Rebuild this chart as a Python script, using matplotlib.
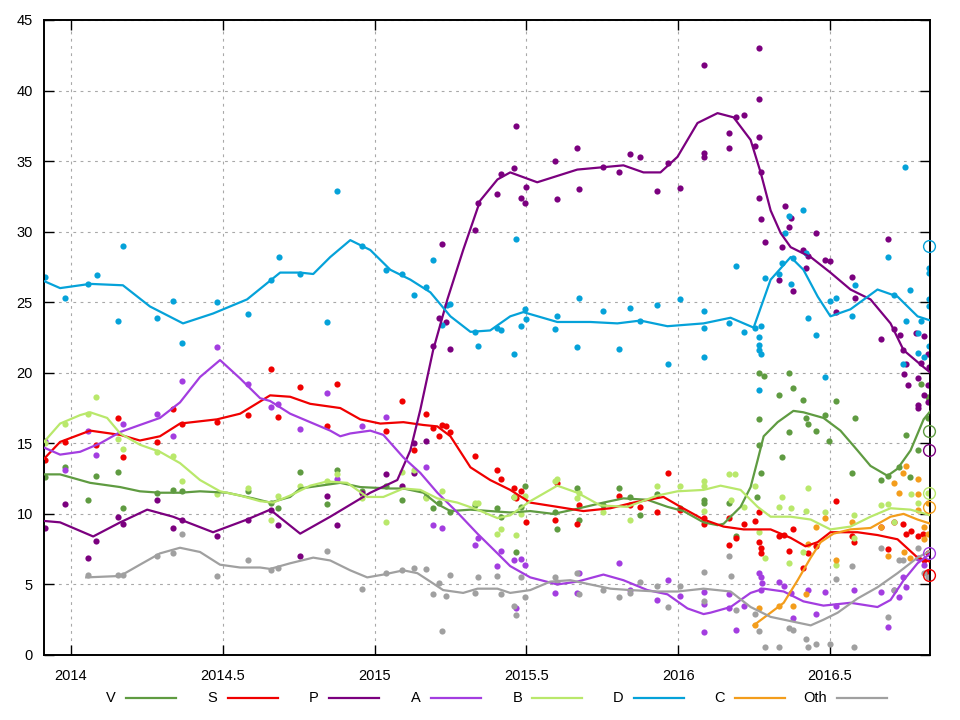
import matplotlib
matplotlib.use("Agg")
import matplotlib.pyplot as plt
from matplotlib.lines import Line2D

plt.rcParams["font.family"] = ["Liberation Sans", "DejaVu Sans"]

parties = ["V", "S", "P", "A", "B", "D", "C", "Oth"]
colors = {"V": "#5f9b41", "S": "#f00000", "P": "#7b007f", "A": "#a33de0",
          "B": "#b9e86b", "D": "#05a2d9", "C": "#f39d1c", "Oth": "#a0a0a0"}

election_date = 2016.828
election = {"V": 15.9, "S": 5.7, "P": 14.5, "A": 7.2, "B": 11.5, "D": 29.0, "C": 10.5}

# ---- poll points (decimal year, %) ----
V_t = [2013.914, 2013.980, 2014.056, 2014.082, 2014.155, 2014.171, 2014.284, 2014.336, 2014.366, 2014.584,
       2014.659, 2014.683, 2014.755, 2014.844, 2014.877, 2014.959, 2015.039, 2015.091, 2015.170, 2015.193,
       2015.213, 2015.250, 2015.332, 2015.405, 2015.418, 2015.461, 2015.467, 2015.484, 2015.497, 2015.593,
       2015.602, 2015.668, 2015.675, 2015.754, 2015.807, 2015.843, 2015.876, 2015.929, 2016.005, 2016.087,
       2016.087, 2016.169, 2016.192, 2016.259, 2016.265, 2016.282, 2016.265, 2016.265, 2016.272, 2016.331,
       2016.344, 2016.367, 2016.380, 2016.367, 2016.410, 2016.420, 2016.427, 2016.456, 2016.483, 2016.496,
       2016.519, 2016.572, 2016.582, 2016.667, 2016.690, 2016.727, 2016.750, 2016.763, 2016.789, 2016.799,
       2016.822, 2016.822]
V_v = [12.6, 13.3, 11.0, 12.7, 13.0, 10.4, 11.5, 11.7, 11.6, 11.6,
       10.8, 10.4, 13.0, 10.7, 13.1, 11.6, 12.0, 11.0, 11.2, 10.4,
       10.8, 10.1, 10.6, 10.4, 9.8, 11.2, 7.3, 10.5, 12.0, 10.1,
       8.9, 11.8, 9.6, 10.6, 11.8, 11.2, 9.9, 11.4, 10.4, 11.0,
       10.8, 10.8, 8.4, 11.2, 20.0, 19.8, 16.7, 14.9, 12.9, 18.4,
       14.0, 20.0, 18.9, 15.8, 18.1, 16.8, 16.4, 15.9, 17.0, 15.2,
       18.0, 12.9, 16.8, 12.4, 12.7, 13.3, 15.6, 12.6, 14.5, 19.2,
       18.3, 16.8]

S_t = [2013.914, 2013.980, 2014.082, 2014.155, 2014.171, 2014.284, 2014.336, 2014.366, 2014.481, 2014.584,
       2014.659, 2014.683, 2014.755, 2014.844, 2014.877, 2015.039, 2015.091, 2015.131, 2015.170, 2015.193,
       2015.213, 2015.223, 2015.236, 2015.250, 2015.332, 2015.405, 2015.418, 2015.461, 2015.467, 2015.484,
       2015.500, 2015.593, 2015.602, 2015.668, 2015.675, 2015.807, 2015.843, 2015.876, 2015.929, 2015.968,
       2016.005, 2016.084, 2016.087, 2016.169, 2016.169, 2016.192, 2016.216, 2016.252, 2016.265, 2016.265,
       2016.272, 2016.272, 2016.331, 2016.348, 2016.367, 2016.380, 2016.410, 2016.427, 2016.456, 2016.519,
       2016.572, 2016.578, 2016.667, 2016.690, 2016.710, 2016.740, 2016.750, 2016.766, 2016.789, 2016.806,
       2016.822, 2016.822, 2016.809]
S_v = [13.8, 15.1, 14.9, 16.8, 14.0, 15.1, 17.4, 16.4, 16.5, 17.0,
       20.3, 16.9, 19.0, 16.2, 19.2, 15.9, 18.0, 14.5, 17.1, 16.1,
       15.5, 16.3, 16.2, 15.8, 14.1, 13.1, 12.5, 11.8, 11.1, 11.6,
       9.4, 9.6, 12.2, 9.3, 10.6, 11.3, 10.6, 10.5, 10.1, 12.9,
       10.3, 9.7, 9.3, 9.7, 7.8, 8.3, 9.3, 9.5, 10.1, 8.0,
       7.6, 7.2, 8.4, 8.5, 7.4, 8.9, 6.2, 7.2, 7.7, 10.9,
       8.4, 8.0, 9.1, 7.5, 9.4, 9.3, 8.6, 8.8, 8.4, 8.6,
       7.2, 5.9, 6.7]

P_t = [2013.914, 2013.980, 2014.056, 2014.082, 2014.155, 2014.171, 2014.284, 2014.336, 2014.366, 2014.481,
       2014.584, 2014.659, 2014.683, 2014.755, 2014.844, 2014.877, 2014.959, 2015.039, 2015.091, 2015.131,
       2015.131, 2015.170, 2015.193, 2015.213, 2015.223, 2015.236, 2015.250, 2015.332, 2015.342, 2015.405,
       2015.418, 2015.461, 2015.467, 2015.484, 2015.497, 2015.500, 2015.593, 2015.602, 2015.668, 2015.675,
       2015.754, 2015.807, 2015.843, 2015.876, 2015.929, 2015.968, 2016.005, 2016.084, 2016.087, 2016.087,
       2016.169, 2016.169, 2016.192, 2016.216, 2016.252, 2016.265, 2016.265, 2016.265, 2016.272, 2016.268,
       2016.272, 2016.288, 2016.331, 2016.341, 2016.351, 2016.367, 2016.371, 2016.380, 2016.410, 2016.420,
       2016.427, 2016.456, 2016.483, 2016.499, 2016.519, 2016.572, 2016.582, 2016.667, 2016.690, 2016.710,
       2016.730, 2016.740, 2016.750, 2016.783, 2016.799, 2016.809, 2016.822, 2016.826, 2016.743, 2016.789,
       2016.756, 2016.822, 2016.809, 2016.789, 2016.789, 2016.822]
P_v = [9.0, 10.7, 6.9, 8.1, 9.8, 9.3, 11.0, 9.0, 9.6, 8.4,
       9.6, 10.3, 9.2, 7.0, 11.3, 9.2, 11.5, 12.8, 12.0, 12.9,
       15.0, 15.2, 21.9, 23.9, 29.1, 23.6, 21.7, 30.1, 32.0, 32.7,
       34.1, 34.5, 37.5, 32.4, 32.0, 33.2, 35.0, 32.3, 35.9, 33.0,
       34.6, 34.2, 35.5, 35.3, 32.9, 34.9, 33.1, 41.8, 35.6, 35.3,
       37.0, 35.9, 38.1, 38.3, 36.1, 43.0, 39.4, 36.7, 34.2, 32.4,
       30.9, 29.3, 26.6, 28.9, 31.8, 30.3, 31.0, 25.8, 28.7, 27.4,
       28.3, 29.9, 28.0, 27.9, 24.3, 26.8, 25.3, 22.4, 29.5, 23.1,
       22.7, 21.6, 20.6, 22.8, 20.7, 22.6, 21.3, 20.4, 19.9, 19.6,
       19.1, 19.1, 18.4, 17.7, 17.5, 17.9]

A_t = [2013.914, 2013.980, 2014.056, 2014.082, 2014.171, 2014.284, 2014.336, 2014.366, 2014.481, 2014.584,
       2014.659, 2014.683, 2014.755, 2014.844, 2014.877, 2014.959, 2015.039, 2015.170, 2015.193, 2015.223,
       2015.332, 2015.342, 2015.405, 2015.418, 2015.461, 2015.467, 2015.484, 2015.497, 2015.593, 2015.668,
       2015.675, 2015.807, 2015.843, 2015.929, 2015.968, 2016.005, 2016.084, 2016.087, 2016.087, 2016.169,
       2016.169, 2016.192, 2016.216, 2016.265, 2016.272, 2016.278, 2016.272, 2016.331, 2016.348, 2016.371,
       2016.377, 2016.427, 2016.456, 2016.483, 2016.519, 2016.578, 2016.667, 2016.690, 2016.710, 2016.727,
       2016.750, 2016.740, 2016.789, 2016.809]
A_v = [15.2, 13.1, 15.9, 14.2, 16.4, 17.1, 15.5, 19.4, 21.8, 19.2,
       17.6, 17.8, 16.0, 18.6, 12.5, 16.2, 16.9, 13.3, 9.2, 9.0,
       7.8, 8.3, 6.3, 7.4, 6.7, 3.3, 6.8, 6.4, 4.4, 4.4,
       5.8, 6.5, 4.6, 3.9, 5.3, 4.2, 1.6, 4.5, 3.6, 4.3,
       3.3, 1.8, 3.5, 5.8, 5.5, 5.1, 4.6, 5.2, 4.9, 4.4,
       2.6, 4.6, 2.9, 4.5, 3.5, 4.6, 4.5, 2.0, 4.6, 4.1,
       4.8, 5.5, 6.9, 6.4]

B_t = [2013.914, 2013.980, 2014.056, 2014.082, 2014.155, 2014.171, 2014.284, 2014.336, 2014.366, 2014.481,
       2014.584, 2014.659, 2014.683, 2014.755, 2014.844, 2014.877, 2014.959, 2015.039, 2015.091, 2015.131,
       2015.170, 2015.223, 2015.332, 2015.342, 2015.405, 2015.418, 2015.461, 2015.467, 2015.484, 2015.497,
       2015.593, 2015.602, 2015.668, 2015.675, 2015.754, 2015.843, 2015.929, 2016.005, 2016.084, 2016.087,
       2016.087, 2016.169, 2016.189, 2016.173, 2016.216, 2016.252, 2016.265, 2016.288, 2016.344, 2016.331,
       2016.371, 2016.367, 2016.410, 2016.427, 2016.420, 2016.483, 2016.519, 2016.578, 2016.578, 2016.667,
       2016.690, 2016.710, 2016.766, 2016.789, 2016.822]
B_v = [15.0, 16.4, 17.1, 18.3, 15.3, 14.6, 14.4, 14.1, 12.3, 11.4,
       11.8, 9.6, 11.3, 12.0, 12.3, 12.8, 11.1, 9.4, 13.0, 13.1,
       11.1, 11.6, 10.8, 10.8, 8.6, 8.9, 11.2, 8.5, 10.0, 11.3,
       12.3, 12.5, 11.1, 11.5, 10.1, 9.6, 12.0, 12.0, 12.3, 12.0,
       10.2, 12.8, 12.8, 11.0, 10.5, 12.0, 8.7, 6.9, 11.2, 10.5,
       10.4, 6.5, 7.3, 11.8, 10.2, 10.1, 6.4, 9.9, 8.3, 10.6,
       10.7, 9.4, 11.4, 10.8, 11.5]

D_t = [2013.914, 2013.980, 2014.056, 2014.086, 2014.155, 2014.171, 2014.284, 2014.336, 2014.366, 2014.481,
       2014.584, 2014.659, 2014.686, 2014.755, 2014.844, 2014.877, 2014.959, 2015.039, 2015.091, 2015.131,
       2015.170, 2015.193, 2015.223, 2015.240, 2015.250, 2015.332, 2015.342, 2015.405, 2015.418, 2015.461,
       2015.467, 2015.484, 2015.497, 2015.500, 2015.593, 2015.602, 2015.668, 2015.675, 2015.754, 2015.807,
       2015.843, 2015.876, 2015.929, 2015.968, 2016.005, 2016.084, 2016.087, 2016.087, 2016.169, 2016.192,
       2016.216, 2016.252, 2016.265, 2016.268, 2016.265, 2016.272, 2016.272, 2016.265, 2016.288, 2016.331,
       2016.341, 2016.351, 2016.367, 2016.371, 2016.380, 2016.410, 2016.420, 2016.427, 2016.456, 2016.483,
       2016.499, 2016.519, 2016.572, 2016.582, 2016.690, 2016.710, 2016.740, 2016.746, 2016.750, 2016.763,
       2016.789, 2016.789, 2016.799, 2016.809, 2016.826, 2016.826, 2016.826, 2016.826, 2016.826]
D_v = [26.8, 25.3, 26.3, 26.9, 23.7, 29.0, 23.9, 25.1, 22.1, 25.0,
       24.2, 26.6, 28.2, 27.0, 23.6, 32.9, 29.0, 27.3, 27.0, 25.5,
       26.1, 28.0, 23.4, 24.8, 24.9, 22.9, 21.9, 23.2, 23.0, 21.3,
       29.5, 23.3, 24.5, 23.8, 23.1, 24.0, 21.8, 25.3, 24.4, 21.7,
       24.6, 23.7, 24.8, 20.6, 25.2, 23.2, 24.4, 21.1, 23.5, 27.6,
       22.9, 23.2, 22.5, 22.0, 21.6, 21.3, 23.3, 18.8, 26.7, 27.0,
       27.8, 29.9, 31.1, 26.3, 28.1, 31.5, 28.5, 23.9, 22.7, 19.7,
       25.1, 25.3, 24.0, 26.2, 28.2, 25.5, 20.6, 34.6, 23.7, 25.9,
       21.4, 22.8, 23.7, 21.1, 27.4, 27.1, 25.2, 24.7, 21.9]

C_t = [2016.252, 2016.265, 2016.331, 2016.380, 2016.420, 2016.427, 2016.456, 2016.483, 2016.519, 2016.572,
       2016.667, 2016.690, 2016.710, 2016.727, 2016.750, 2016.740, 2016.789, 2016.789, 2016.809, 2016.822,
       2016.822, 2016.809, 2016.743, 2016.763, 2016.789]
C_v = [2.1, 3.3, 3.5, 3.5, 4.3, 7.9, 9.1, 9.7, 6.7, 9.4,
       9.1, 7.0, 12.2, 11.5, 13.4, 12.9, 12.5, 11.4, 9.1, 10.8,
       8.6, 8.2, 7.3, 6.9, 10.3]

Oth_t = [2014.056, 2014.155, 2014.171, 2014.284, 2014.336, 2014.366, 2014.481, 2014.584, 2014.659, 2014.683,
         2014.844, 2014.959, 2015.039, 2015.091, 2015.131, 2015.170, 2015.193, 2015.213, 2015.223, 2015.236,
         2015.250, 2015.332, 2015.342, 2015.405, 2015.418, 2015.461, 2015.467, 2015.484, 2015.497, 2015.593,
         2015.602, 2015.668, 2015.675, 2015.754, 2015.807, 2015.843, 2015.876, 2015.929, 2015.968, 2016.005,
         2016.084, 2016.087, 2016.169, 2016.173, 2016.192, 2016.252, 2016.268, 2016.288, 2016.331, 2016.367,
         2016.380, 2016.420, 2016.427, 2016.456, 2016.499, 2016.519, 2016.572, 2016.578, 2016.667, 2016.690,
         2016.710, 2016.727, 2016.740, 2016.789, 2016.809, 2016.822]
Oth_v = [5.7, 5.7, 5.7, 7.0, 7.2, 8.6, 5.6, 6.7, 6.0, 6.2,
         7.4, 4.7, 5.8, 6.0, 6.2, 6.1, 4.3, 5.1, 1.7, 4.2,
         5.7, 4.4, 5.5, 5.6, 4.3, 3.5, 2.8, 5.5, 4.1, 5.5,
         5.2, 5.8, 4.3, 4.6, 4.1, 4.4, 5.2, 4.9, 3.4, 4.9,
         3.8, 5.9, 7.0, 5.6, 3.2, 2.9, 1.7, 0.6, 0.6, 1.9,
         1.8, 1.1, 0.6, 0.8, 0.8, 5.4, 6.3, 0.6, 7.6, 2.7,
         4.6, 6.7, 6.7, 7.6, 5.8, 5.5]

# ---- smoothed trend lines (decimal year, %) ----
V_line_t = [2013.911, 2013.964, 2014.063, 2014.162, 2014.227, 2014.293, 2014.359, 2014.425, 2014.514, 2014.600,
            2014.656, 2014.722, 2014.755, 2014.821, 2014.887, 2014.953, 2015.052, 2015.095, 2015.161, 2015.207,
            2015.250, 2015.316, 2015.381, 2015.447, 2015.513, 2015.589, 2015.655, 2015.754, 2015.820, 2015.899,
            2015.965, 2016.018, 2016.084, 2016.130, 2016.150, 2016.206, 2016.239, 2016.262, 2016.282, 2016.328,
            2016.380, 2016.413, 2016.479, 2016.535, 2016.591, 2016.634, 2016.690, 2016.723, 2016.766, 2016.809,
            2016.832]
V_line_v = [12.8, 12.8, 12.2, 11.9, 11.6, 11.5, 11.5, 11.6, 11.5, 11.1,
            10.8, 11.2, 11.8, 12.0, 12.2, 11.9, 11.8, 11.8, 11.5, 10.7,
            10.2, 10.3, 10.2, 10.1, 10.2, 10.0, 10.3, 10.8, 11.1, 11.0,
            10.5, 10.2, 9.4, 9.2, 9.3, 10.5, 11.9, 13.8, 15.5, 16.5,
            17.3, 17.2, 16.8, 15.9, 14.5, 13.4, 12.7, 13.2, 14.5, 16.7,
            17.3]

S_line_t = [2013.911, 2013.964, 2014.063, 2014.162, 2014.227, 2014.293, 2014.359, 2014.481, 2014.557, 2014.656,
            2014.722, 2014.788, 2014.887, 2014.953, 2015.019, 2015.095, 2015.161, 2015.207, 2015.250, 2015.316,
            2015.381, 2015.447, 2015.513, 2015.602, 2015.688, 2015.777, 2015.853, 2015.952, 2016.008, 2016.084,
            2016.150, 2016.216, 2016.305, 2016.371, 2016.420, 2016.460, 2016.502, 2016.591, 2016.657, 2016.723,
            2016.789, 2016.832]
S_line_v = [13.9, 15.1, 15.9, 15.6, 15.2, 15.5, 16.4, 16.7, 17.1, 18.4,
            18.3, 17.8, 17.5, 16.7, 16.4, 16.5, 16.3, 16.2, 15.5, 13.3,
            12.4, 11.7, 10.8, 10.5, 10.2, 10.4, 10.8, 11.2, 10.5, 9.6,
            9.1, 8.9, 8.9, 8.3, 7.7, 8.0, 8.7, 8.7, 8.5, 8.2,
            6.9, 6.6]

P_line_t = [2013.911, 2013.964, 2014.073, 2014.162, 2014.251, 2014.336, 2014.468, 2014.580, 2014.656, 2014.755,
            2014.854, 2014.986, 2015.075, 2015.118, 2015.151, 2015.193, 2015.240, 2015.292, 2015.348, 2015.405,
            2015.447, 2015.536, 2015.668, 2015.820, 2015.886, 2015.942, 2015.998, 2016.064, 2016.130, 2016.183,
            2016.239, 2016.272, 2016.305, 2016.338, 2016.371, 2016.437, 2016.502, 2016.568, 2016.634, 2016.700,
            2016.743, 2016.809, 2016.832]
P_line_v = [9.5, 9.4, 8.4, 9.4, 10.3, 9.8, 8.7, 9.6, 10.3, 8.6,
            9.8, 11.5, 12.4, 14.5, 17.4, 21.6, 25.2, 28.7, 32.2, 33.7,
            34.2, 33.5, 34.4, 34.7, 34.2, 34.2, 35.3, 37.7, 38.4, 38.1,
            36.5, 34.2, 31.5, 29.9, 28.9, 28.2, 27.1, 25.9, 25.2, 23.5,
            21.6, 20.4, 20.0]

A_line_t = [2013.911, 2013.964, 2014.030, 2014.096, 2014.162, 2014.227, 2014.293, 2014.359, 2014.425, 2014.491,
            2014.557, 2014.623, 2014.656, 2014.722, 2014.788, 2014.854, 2014.887, 2014.920, 2014.986, 2015.029,
            2015.095, 2015.151, 2015.207, 2015.273, 2015.339, 2015.405, 2015.447, 2015.513, 2015.602, 2015.668,
            2015.754, 2015.820, 2015.899, 2015.965, 2016.031, 2016.084, 2016.107, 2016.173, 2016.239, 2016.282,
            2016.348, 2016.413, 2016.479, 2016.568, 2016.657, 2016.700, 2016.743, 2016.789, 2016.832]
A_line_v = [14.7, 14.2, 14.4, 15.0, 15.8, 16.3, 16.8, 17.9, 19.7, 20.9,
            19.6, 18.2, 18.0, 17.1, 16.5, 15.9, 15.5, 15.7, 15.9, 15.6,
            14.0, 12.9, 11.5, 10.1, 8.6, 7.2, 6.3, 5.5, 5.0, 5.2,
            5.7, 5.3, 4.6, 4.3, 3.3, 2.9, 3.0, 3.4, 4.4, 4.7,
            4.5, 3.8, 3.5, 3.7, 3.4, 3.9, 5.3, 6.5, 7.2]

B_line_t = [2013.911, 2013.964, 2014.030, 2014.063, 2014.119, 2014.162, 2014.227, 2014.293, 2014.359, 2014.425,
            2014.491, 2014.557, 2014.623, 2014.666, 2014.722, 2014.788, 2014.844, 2014.910, 2014.976, 2015.029,
            2015.095, 2015.151, 2015.207, 2015.273, 2015.339, 2015.405, 2015.447, 2015.513, 2015.602, 2015.668,
            2015.744, 2015.833, 2015.932, 2015.998, 2016.084, 2016.140, 2016.206, 2016.262, 2016.305, 2016.371,
            2016.437, 2016.502, 2016.568, 2016.634, 2016.700, 2016.766, 2016.832]
B_line_v = [15.1, 16.4, 17.0, 17.2, 16.8, 15.7, 14.9, 14.4, 13.6, 12.4,
            11.6, 11.3, 10.9, 10.8, 11.3, 12.0, 12.3, 12.2, 11.2, 11.2,
            11.8, 11.7, 11.1, 10.8, 10.3, 9.7, 9.9, 10.9, 12.0, 11.5,
            10.6, 10.5, 11.3, 11.6, 11.7, 12.0, 11.7, 10.5, 9.8, 9.8,
            9.6, 8.9, 9.1, 9.8, 10.4, 10.3, 9.9]

D_line_t = [2013.911, 2013.964, 2014.063, 2014.171, 2014.260, 2014.369, 2014.468, 2014.580, 2014.689, 2014.755,
            2014.798, 2014.854, 2014.920, 2014.986, 2015.052, 2015.118, 2015.184, 2015.250, 2015.316, 2015.381,
            2015.447, 2015.490, 2015.602, 2015.711, 2015.800, 2015.876, 2015.965, 2016.084, 2016.173, 2016.249,
            2016.305, 2016.371, 2016.413, 2016.460, 2016.502, 2016.568, 2016.657, 2016.723, 2016.789, 2016.832]
D_line_v = [26.5, 26.0, 26.3, 26.2, 24.7, 23.5, 24.2, 25.2, 27.1, 27.1,
            27.0, 28.2, 29.4, 28.7, 27.3, 26.6, 25.7, 24.0, 22.9, 23.0,
            24.0, 24.3, 23.6, 23.6, 23.5, 23.7, 23.3, 23.5, 23.9, 23.2,
            26.6, 28.2, 27.3, 25.4, 24.0, 24.5, 25.9, 25.4, 24.0, 23.7]

C_line_t = [2016.249, 2016.305, 2016.348, 2016.394, 2016.437, 2016.470, 2016.512, 2016.568, 2016.634, 2016.700,
            2016.743, 2016.789, 2016.832]
C_line_v = [2.1, 3.0, 3.7, 5.3, 6.9, 8.0, 8.6, 8.9, 9.0, 9.8,
            10.0, 9.6, 9.3]

Oth_line_t = [2014.050, 2014.162, 2014.227, 2014.293, 2014.359, 2014.425, 2014.491, 2014.557, 2014.623, 2014.656,
              2014.722, 2014.798, 2014.854, 2014.920, 2014.976, 2015.029, 2015.095, 2015.141, 2015.184, 2015.226,
              2015.292, 2015.339, 2015.405, 2015.447, 2015.513, 2015.579, 2015.645, 2015.711, 2015.777, 2015.843,
              2015.932, 2015.998, 2016.084, 2016.173, 2016.239, 2016.305, 2016.371, 2016.437, 2016.479, 2016.526,
              2016.591, 2016.657, 2016.723, 2016.789, 2016.832]
Oth_line_v = [5.5, 5.6, 6.4, 7.2, 7.6, 7.3, 6.4, 6.2, 6.2, 6.1,
              6.5, 6.9, 6.7, 6.0, 5.5, 5.7, 6.0, 5.8, 5.2, 4.6,
              4.4, 4.7, 4.7, 4.4, 4.6, 5.2, 5.3, 5.0, 4.7, 4.6,
              4.5, 4.5, 4.7, 4.5, 3.4, 2.7, 2.4, 2.1, 2.5, 3.0,
              4.0, 4.8, 5.8, 6.9, 7.4]

points = {"V": (V_t, V_v), "S": (S_t, S_v), "P": (P_t, P_v), "A": (A_t, A_v),
          "B": (B_t, B_v), "D": (D_t, D_v), "C": (C_t, C_v), "Oth": (Oth_t, Oth_v)}
lines = {"V": (V_line_t, V_line_v), "S": (S_line_t, S_line_v), "P": (P_line_t, P_line_v),
         "A": (A_line_t, A_line_v), "B": (B_line_t, B_line_v), "D": (D_line_t, D_line_v),
         "C": (C_line_t, C_line_v), "Oth": (Oth_line_t, Oth_line_v)}

fig = plt.figure(figsize=(9.6, 7.2), dpi=100)
ax = fig.add_axes([44 / 960, 65 / 720, 886 / 960, 635 / 720])

for p in parties:
    t, v = points[p]
    ax.scatter(t, v, s=20, color=colors[p], linewidths=0, zorder=2)
for p in parties:
    t, v = lines[p]
    ax.plot(t, v, color=colors[p], lw=1.6, zorder=3, solid_joinstyle="round")
for p in parties:
    if p in election:
        ax.plot([election_date], [election[p]], "o", ms=8.5, mfc="none", mec=colors[p],
                mew=1.0, zorder=4, clip_on=False)

ax.set_xlim(2013.911, 2016.830)
ax.set_ylim(0, 45)
ax.set_xticks([2014, 2014.5, 2015, 2015.5, 2016, 2016.5])
ax.set_xticklabels(["2014", "2014.5", "2015", "2015.5", "2016", "2016.5"])
ax.set_yticks(range(0, 46, 5))
ax.tick_params(direction="in", top=True, right=True, length=7, width=1,
               labelsize=10.5, colors="black")
ax.tick_params(axis="x", pad=10)
ax.tick_params(axis="y", pad=8)
ax.grid(True, color="#a8a8a8", linestyle=(0, (2.5, 4)), lw=0.8)
for s in ax.spines.values():
    s.set_linewidth(1.4)

# legend row below the plot
y_leg = 22 / 720
for i, p in enumerate(parties):
    x0 = (126 + i * 101.5) / 960
    fig.text(x0 - 10 / 960, y_leg, p, ha="right", va="center", fontsize=10.5)
    fig.add_artist(Line2D([x0, x0 + 50 / 960], [y_leg, y_leg], color=colors[p], lw=1.6,
                          transform=fig.transFigure))

fig.savefig("out.png", dpi=100)
